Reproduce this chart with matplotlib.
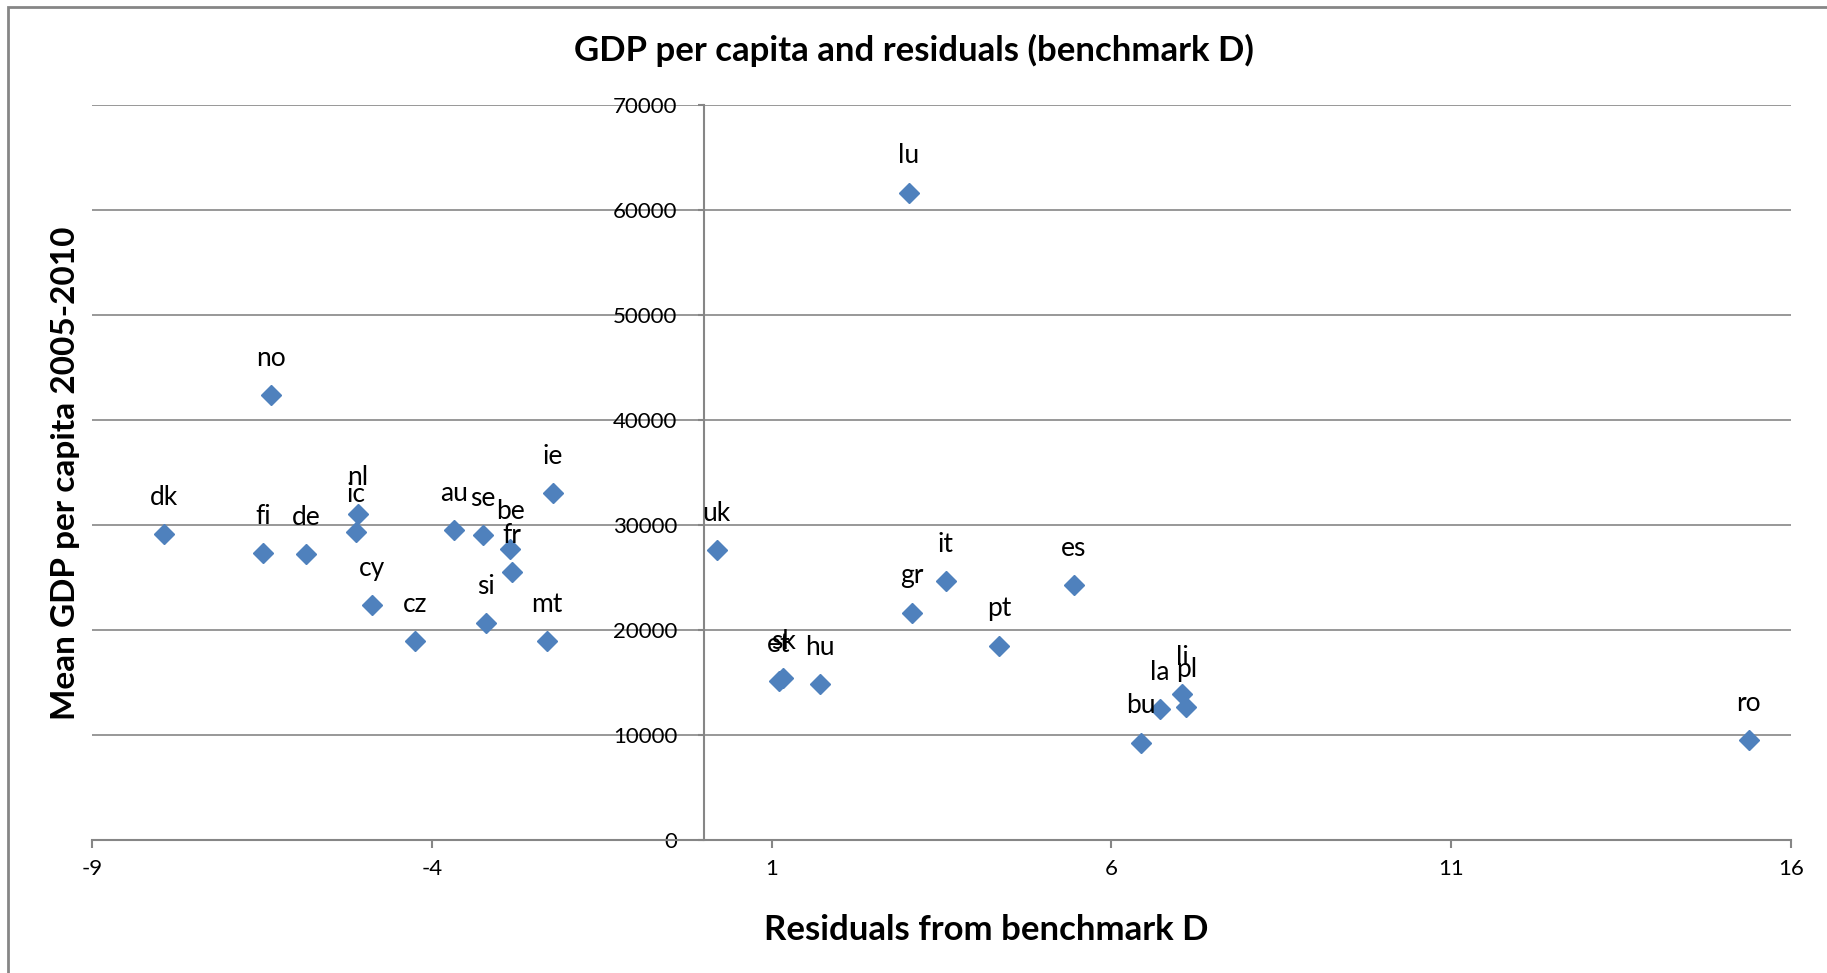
#!/usr/bin/env python3
"""
plot.py - Scatter of mean GDP per capita against the residuals of benchmark D.
Writes out.png.
"""

import matplotlib
matplotlib.use("Agg")          # no window, straight to PNG
import matplotlib.pyplot as plt
from matplotlib.patches import Rectangle

# Country codes, residual from benchmark D and mean GDP per capita 2005-2010
countries = ["dk", "no", "fi", "de", "nl", "ic", "cy", "cz", "au", "se",
             "si", "be", "fr", "mt", "ie", "uk", "et", "sk", "hu", "lu",
             "gr", "it", "pt", "es", "bu", "la", "li", "pl", "ro"]
residuals = [-7.94, -6.37, -6.48, -5.85, -5.09, -5.12, -4.88, -4.25, -3.68, -3.25,
             -3.21, -2.85, -2.82, -2.31, -2.22, 0.19, 1.11, 1.17, 1.71, 3.02,
             3.06, 3.56, 4.35, 5.45, 6.43, 6.71, 7.04, 7.10, 15.38]
gdp = [29140, 42380, 27300, 27240, 31020, 29370, 22410, 18920, 29490, 29020,
       20670, 27750, 25490, 18920, 33020, 27620, 15110, 15400, 14860, 61650,
       21650, 24670, 18510, 24250, 9270, 12500, 13870, 12700, 9520]

x_ticks = [-9, -4, 1, 6, 11, 16]
y_ticks = [0, 10000, 20000, 30000, 40000, 50000, 60000, 70000]

GRIS = "#868686"
AZUL = "#4F81BD"

plt.rcParams["font.family"] = ["Lato", "DejaVu Sans"]


def main():
    fig = plt.figure(figsize=(18.27, 9.73), dpi=100)
    ax = fig.add_axes([0.0504, 0.1367, 0.9299, 0.7554])

    ax.plot(residuals, gdp, linestyle="none", marker="D", markersize=10.5,
            color=AZUL, zorder=3)

    # Labels above each marker, like Excel's "above" position
    for code, x, y in zip(countries, residuals, gdp):
        ax.annotate(code, (x, y), xytext=(0, 21), textcoords="offset points",
                    ha="center", va="baseline", fontsize=19, color="black")

    ax.set_xlim(-9, 16)
    ax.set_ylim(0, 70000)
    ax.set_xticks(x_ticks)
    ax.set_yticks(y_ticks)
    ax.set_xticklabels([str(t) for t in x_ticks])
    ax.set_yticklabels([str(t) for t in y_ticks])

    # Y axis crosses at x = 0, only horizontal gridlines
    ax.spines["left"].set_position(("data", 0))
    ax.spines["top"].set_visible(False)
    ax.spines["right"].set_visible(False)
    for lado in ("left", "bottom"):
        ax.spines[lado].set_color(GRIS)
        ax.spines[lado].set_linewidth(1.5)
    ax.yaxis.grid(True, color=GRIS, linewidth=1.2)
    ax.set_axisbelow(True)

    ax.tick_params(axis="x", direction="out", length=6, width=1.5,
                   color=GRIS, labelsize=16, pad=8)
    ax.tick_params(axis="y", direction="out", length=4, width=1.5,
                   color=GRIS, labelsize=16, pad=15)

    fig.text(0.5, 1 - 50 / 973, "GDP per capita and residuals (benchmark D)",
             ha="center", va="center", fontsize=25, fontweight="bold")
    fig.text(986 / 1827, 1 - 930 / 973, "Residuals from benchmark D",
             ha="center", va="center", fontsize=25, fontweight="bold")
    fig.text(66 / 1827, 1 - 473 / 973, "Mean GDP per capita 2005-2010",
             ha="center", va="center", rotation=90, fontsize=24,
             fontweight="bold")

    # Chart area border (only left and top edges are inside the picture)
    fig.add_artist(Rectangle((8 / 1827, -0.5), 2, 0.5 + 1 - 7 / 973,
                             transform=fig.transFigure, fill=False,
                             edgecolor=GRIS, linewidth=2))

    fig.savefig("out.png", dpi=100)


if __name__ == "__main__":
    main()
